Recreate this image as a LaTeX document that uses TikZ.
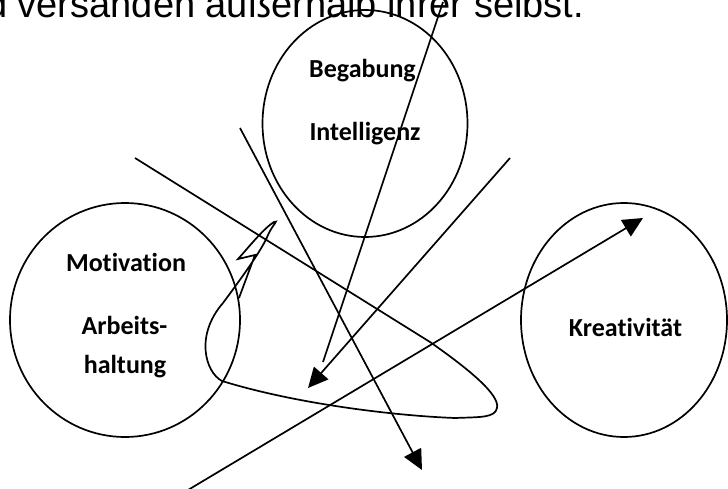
\documentclass[tikz,border=0pt]{standalone}
\usepackage{fontspec}
\setmainfont{Liberation Sans}
\newfontfamily\calib[Ligatures=NoCommon]{Carlito}
\usetikzlibrary{shapes.geometric,arrows.meta}
\begin{document}
\begin{tikzpicture}[x=1pt,y=-1pt,
  ring/.style={draw, ellipse, line width=1.7pt, inner sep=0pt},
  lbl/.style={font=\calib\bfseries\fontsize{26}{30}\selectfont, inner sep=0pt, anchor=base},
  con/.style={line width=1.7pt},
  tip/.style={-{Triangle[length=20pt,width=19pt]}}]
\useasboundingbox (0,0) rectangle (728,489);
\clip (0,0) rectangle (728,489);
\node[font=\fontsize{38}{40}\selectfont, anchor=base west, inner sep=0pt] (head) at (-14,18) {d versanden außerhalb ihrer selbst.};
% circles
\node[ring, minimum width=205pt, minimum height=227pt] (beg) at (365,123.5) {};
\node[ring, minimum width=230pt, minimum height=234pt] (mot) at (125,320) {};
\node[ring, minimum width=206pt, minimum height=234pt] (kre) at (624,320) {};
% labels
\node[lbl] (t1) at (362.5,78) {Begabung};
\node[lbl] (t2) at (365,141) {Intelligenz};
\node[lbl] (t3) at (126,271) {Motivation};
\node[lbl] (t4) at (124.5,334) {Arbeits-};
\node[lbl] (t5) at (125,373) {haltung};
\node[lbl] (t6) at (625.5,336) {Kreativität};
% connectors
\coordinate (a1s) at (443,2);
\coordinate (a1e) at (323,362);
\draw[con] (a1s) -- (a1e);
\coordinate (a2s) at (510,158);
\coordinate (a2e) at (308,388);
\draw[con,tip] (a2s) -- (a2e);
\coordinate (a3s) at (240,128);
\coordinate (a3e) at (422,470);
\draw[con,tip] (a3s) -- (a3e);
\coordinate (a4s) at (188,490);
\coordinate (a4e) at (643,218);
\draw[con,tip] (a4s) -- (a4e);
% loop squiggle
\coordinate (l0) at (135,158);
\coordinate (l1) at (239,298);
\draw[con] (l0) -- (430,342)
  .. controls (470,370) and (500,395) .. (497,408)
  .. controls (495,418) and (480,417) .. (455,418)
  .. controls (400,416) and (300,405) .. (222,381)
  .. controls (205,372) and (195,335) .. (223,303)
  .. controls (240,280) and (262,250) .. (268,235)
  .. controls (273,224) and (279,220) .. (274,222)
  .. controls (264,228) and (248,248) .. (238,259)
  -- (255,255) -- (l1);
\end{tikzpicture}
\end{document}
